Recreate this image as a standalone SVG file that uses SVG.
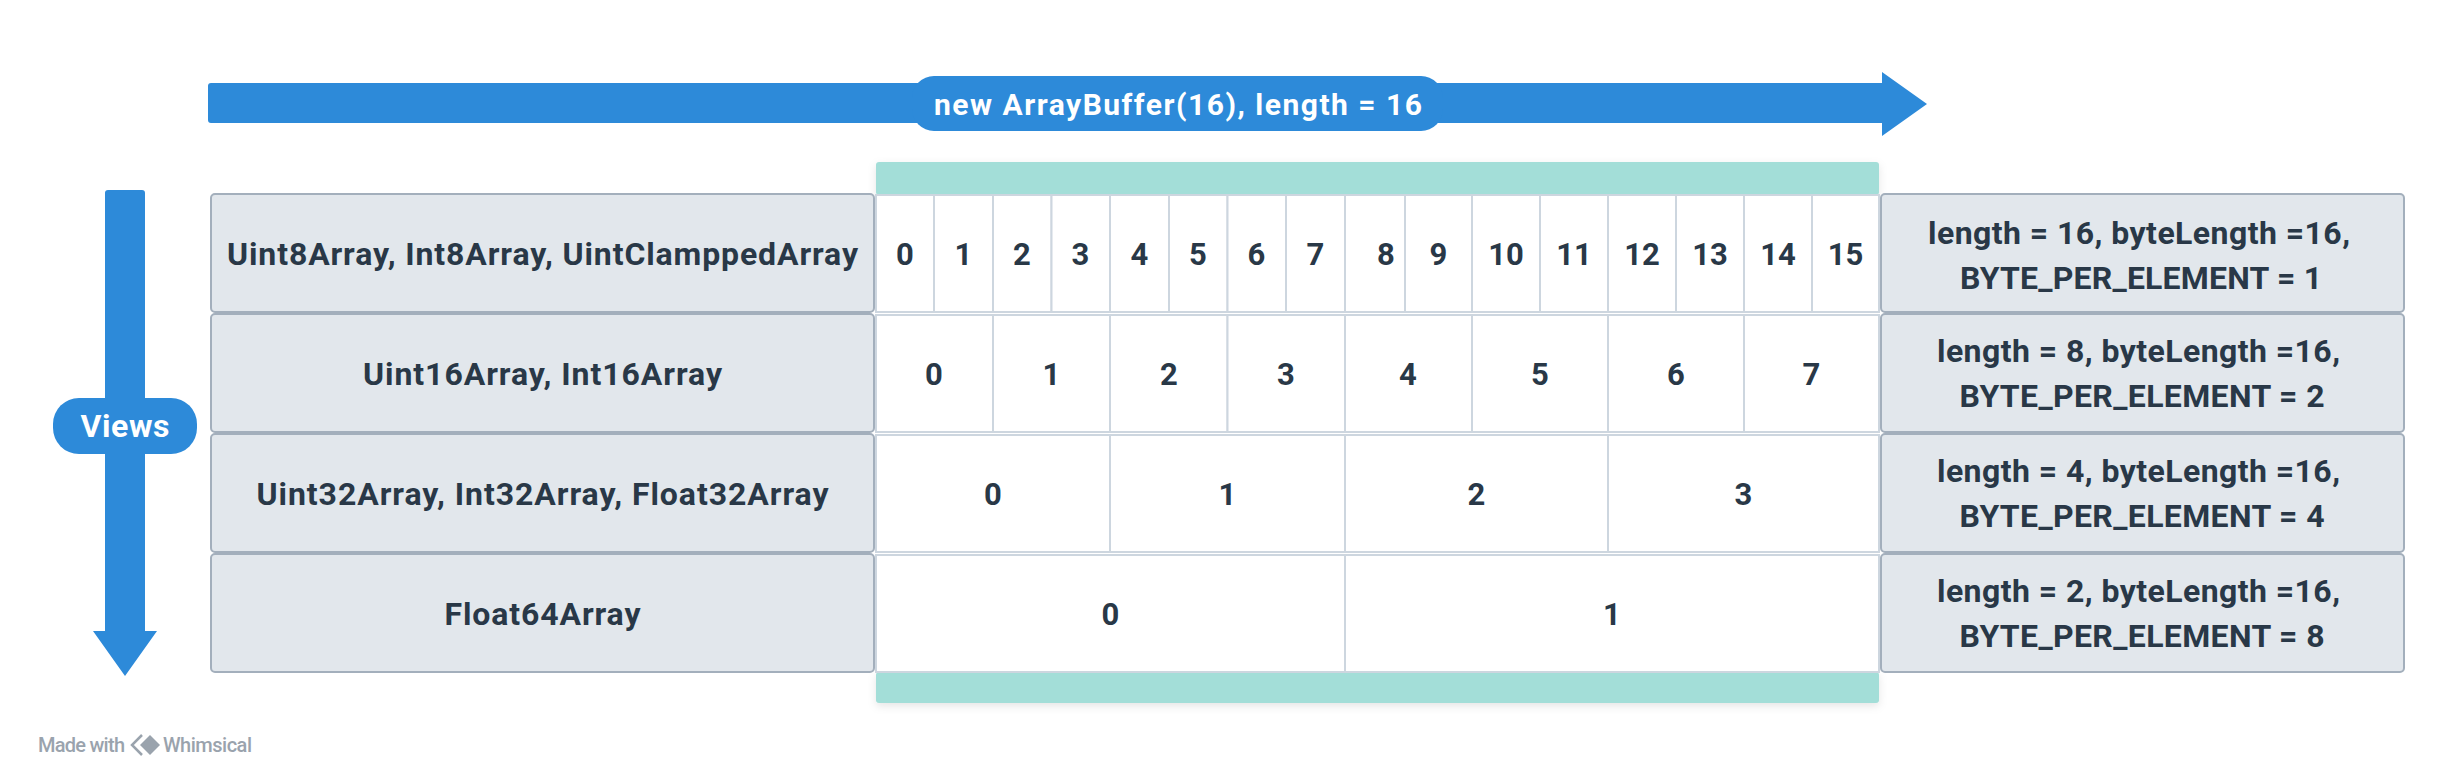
<svg xmlns="http://www.w3.org/2000/svg" width="2446" height="775" viewBox="0 0 2446 775">
  <defs>
    <style>
      .lbl{fill:#e2e7ec;stroke:#a3afbc;stroke-width:2}
      .cell{fill:#ffffff;stroke:#cdd6df;stroke-width:2}
      .teal{fill:#a3ded8}
      .blue{fill:#2d8ad9}
      .t{font-family:Roboto,"Liberation Sans",sans-serif;font-weight:700;fill:#293847;text-anchor:middle}
      .n{font-size:31px}
      .lt{font-size:32px}
      .w{font-family:Roboto,"Liberation Sans",sans-serif;font-weight:700;fill:#ffffff;text-anchor:middle}
      .foot{font-family:Roboto,"Liberation Sans",sans-serif;font-weight:500;font-size:20px;fill:#9aa3ad}
    </style>
    <filter id="sh" x="-5%" y="-20%" width="110%" height="160%">
      <feDropShadow dx="0" dy="3" stdDeviation="4" flood-color="#000" flood-opacity="0.10"/>
    </filter>
  </defs>
  <rect width="2446" height="775" fill="#ffffff"/>

  <g id="connectors">
    <path class="blue" d="M211,83 H1882 V72 L1927,104 L1882,136 V123 H211 Q208,123 208,120 V86 Q208,83 211,83 Z"/>
    <path class="blue" d="M108,190 H142 Q145,190 145,193 V631 H157 L125,676 L93,631 H105 V193 Q105,190 108,190 Z"/>
  </g>

  <g id="buffer-label">
    <rect class="blue" x="912" y="76" width="531" height="55" rx="22"/>
    <text class="w" x="1178" y="115" font-size="30" textLength="488">new ArrayBuffer(16), length = 16</text>
  </g>

  <g id="views-label">
    <rect class="blue" x="53" y="398" width="144" height="56" rx="26"/>
    <text class="w" x="125" y="437" font-size="32" textLength="89">Views</text>
  </g>

  <g id="buffer" filter="url(#sh)">
    <rect class="teal" x="876" y="162" width="1003" height="33" rx="3"/>
    <rect class="teal" x="876" y="672" width="1003" height="31" rx="3"/>
  </g>

  <g id="type-uint8">
    <rect class="lbl" x="211" y="194" width="663" height="118" rx="4"/>
    <text class="t lt" x="542.5" y="264.5" textLength="631">Uint8Array, Int8Array, UintClamppedArray</text>
  </g>
  <g id="type-uint16">
    <rect class="lbl" x="211" y="314" width="663" height="118" rx="4"/>
    <text class="t lt" x="542.5" y="384.5" textLength="359">Uint16Array, Int16Array</text>
  </g>
  <g id="type-uint32">
    <rect class="lbl" x="211" y="434" width="663" height="118" rx="4"/>
    <text class="t lt" x="542.5" y="504.5" textLength="572">Uint32Array, Int32Array, Float32Array</text>
  </g>
  <g id="type-float64">
    <rect class="lbl" x="211" y="554" width="663" height="118" rx="4"/>
    <text class="t lt" x="542.5" y="624.5" textLength="196">Float64Array</text>
  </g>

  <g id="row-8bit">
    <rect class="cell" x="876" y="195" width="58" height="117"/>
    <rect class="cell" x="934" y="195" width="59" height="117"/>
    <rect class="cell" x="993" y="195" width="58.5" height="117"/>
    <rect class="cell" x="1051.5" y="195" width="58.5" height="117"/>
    <rect class="cell" x="1110" y="195" width="59" height="117"/>
    <rect class="cell" x="1169" y="195" width="58.5" height="117"/>
    <rect class="cell" x="1227.5" y="195" width="58.5" height="117"/>
    <rect class="cell" x="1286" y="195" width="59" height="117"/>
    <rect class="cell" x="1345" y="195" width="60" height="117"/>
    <rect class="cell" x="1405" y="195" width="67" height="117"/>
    <rect class="cell" x="1472" y="195" width="68" height="117"/>
    <rect class="cell" x="1540" y="195" width="68" height="117"/>
    <rect class="cell" x="1608" y="195" width="68" height="117"/>
    <rect class="cell" x="1676" y="195" width="68" height="117"/>
    <rect class="cell" x="1744" y="195" width="68" height="117"/>
    <rect class="cell" x="1812" y="195" width="67" height="117"/>
    <text class="t n" x="905" y="265">0</text>
    <text class="t n" x="963.5" y="265">1</text>
    <text class="t n" x="1022" y="265">2</text>
    <text class="t n" x="1080.5" y="265">3</text>
    <text class="t n" x="1139.5" y="265">4</text>
    <text class="t n" x="1198" y="265">5</text>
    <text class="t n" x="1256.5" y="265">6</text>
    <text class="t n" x="1315.5" y="265">7</text>
    <text class="t n" x="1386" y="265">8</text>
    <text class="t n" x="1438.5" y="265">9</text>
    <text class="t n" x="1506" y="265">10</text>
    <text class="t n" x="1574" y="265">11</text>
    <text class="t n" x="1642" y="265">12</text>
    <text class="t n" x="1710" y="265">13</text>
    <text class="t n" x="1778" y="265">14</text>
    <text class="t n" x="1845.5" y="265">15</text>
  </g>

  <g id="row-16bit">
    <rect class="cell" x="876" y="315" width="117" height="117"/>
    <rect class="cell" x="993" y="315" width="117" height="117"/>
    <rect class="cell" x="1110" y="315" width="117.5" height="117"/>
    <rect class="cell" x="1227.5" y="315" width="117.5" height="117"/>
    <rect class="cell" x="1345" y="315" width="127" height="117"/>
    <rect class="cell" x="1472" y="315" width="136" height="117"/>
    <rect class="cell" x="1608" y="315" width="136" height="117"/>
    <rect class="cell" x="1744" y="315" width="135" height="117"/>
    <text class="t n" x="934" y="385">0</text>
    <text class="t n" x="1051.5" y="385">1</text>
    <text class="t n" x="1169" y="385">2</text>
    <text class="t n" x="1286" y="385">3</text>
    <text class="t n" x="1408" y="385">4</text>
    <text class="t n" x="1540" y="385">5</text>
    <text class="t n" x="1676" y="385">6</text>
    <text class="t n" x="1811.5" y="385">7</text>
  </g>

  <g id="row-32bit">
    <rect class="cell" x="876" y="435" width="234" height="117"/>
    <rect class="cell" x="1110" y="435" width="235" height="117"/>
    <rect class="cell" x="1345" y="435" width="263" height="117"/>
    <rect class="cell" x="1608" y="435" width="271" height="117"/>
    <text class="t n" x="993" y="505">0</text>
    <text class="t n" x="1227.5" y="505">1</text>
    <text class="t n" x="1476.5" y="505">2</text>
    <text class="t n" x="1743.5" y="505">3</text>
  </g>

  <g id="row-64bit">
    <rect class="cell" x="876" y="555" width="469" height="117"/>
    <rect class="cell" x="1345" y="555" width="534" height="117"/>
    <text class="t n" x="1110.5" y="625">0</text>
    <text class="t n" x="1612" y="625">1</text>
  </g>

  <g id="info-uint8">
    <rect class="lbl" x="1881" y="194" width="523" height="118" rx="4"/>
    <text class="t lt" x="2139" y="243.5" textLength="422">length = 16, byteLength =16,</text>
    <text class="t lt" x="2141" y="288.5" textLength="362">BYTE_PER_ELEMENT = 1</text>
  </g>
  <g id="info-uint16">
    <rect class="lbl" x="1881" y="314" width="523" height="118" rx="4"/>
    <text class="t lt" x="2138.5" y="362" textLength="403">length = 8, byteLength =16,</text>
    <text class="t lt" x="2142" y="407" textLength="365">BYTE_PER_ELEMENT = 2</text>
  </g>
  <g id="info-uint32">
    <rect class="lbl" x="1881" y="434" width="523" height="118" rx="4"/>
    <text class="t lt" x="2138.5" y="482" textLength="403">length = 4, byteLength =16,</text>
    <text class="t lt" x="2142" y="527" textLength="365">BYTE_PER_ELEMENT = 4</text>
  </g>
  <g id="info-float64">
    <rect class="lbl" x="1881" y="554" width="523" height="118" rx="4"/>
    <text class="t lt" x="2138.5" y="602" textLength="403">length = 2, byteLength =16,</text>
    <text class="t lt" x="2142" y="647" textLength="365">BYTE_PER_ELEMENT = 8</text>
  </g>

  <g id="footer">
    <text class="foot" x="38" y="752" textLength="87">Made with</text>
    <path d="M142,735 L132,745 L142,755" fill="none" stroke="#9aa3ad" stroke-width="2.5"/>
    <path d="M150,735 L160,745 L150,755 L140,745 Z" fill="#9aa3ad"/>
    <text class="foot" x="163" y="752" textLength="89">Whimsical</text>
  </g>
</svg>
